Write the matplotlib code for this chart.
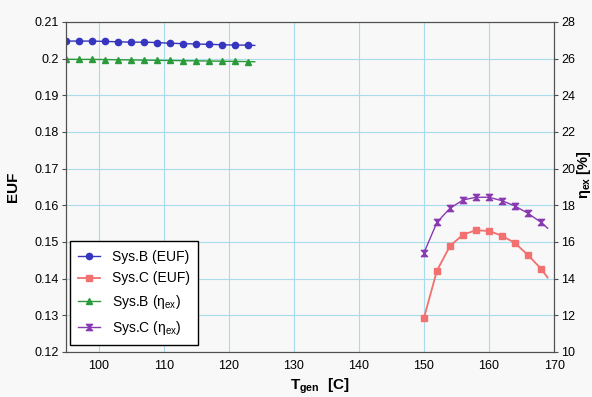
import matplotlib
matplotlib.use('Agg')
import matplotlib.pyplot as plt
from matplotlib.path import Path

plt.rcParams['font.family'] = ['Liberation Sans', 'DejaVu Sans']
plt.rcParams['mathtext.fontset'] = 'custom'
plt.rcParams['mathtext.rm'] = 'Liberation Sans'
plt.rcParams['mathtext.bf'] = 'Liberation Sans:bold'

# Sys.B, generator temperature (markers every 2 C, line end at 124)
t_b = [95, 97, 99, 101, 103, 105, 107, 109, 111, 113, 115, 117, 119, 121, 123, 124]
euf_b = [0.2048, 0.2048, 0.2048, 0.2047, 0.2046, 0.2045, 0.2045, 0.2044,
         0.2042, 0.2041, 0.2040, 0.2039, 0.2038, 0.2037, 0.2037, 0.2036]
eta_b = [25.97, 25.96, 25.96, 25.95, 25.94, 25.93, 25.92, 25.91,
         25.90, 25.89, 25.88, 25.87, 25.86, 25.85, 25.84, 25.83]

# Sys.C
t_c = [150, 152, 154, 156, 158, 160, 162, 164, 166, 168, 169]
euf_c = [0.1293, 0.1422, 0.1489, 0.1520, 0.1532, 0.1530, 0.1517, 0.1497,
         0.1464, 0.1427, 0.1403]
eta_c = [15.41, 17.07, 17.84, 18.29, 18.44, 18.44, 18.25, 17.96, 17.56,
         17.07, 16.75]

x_ticks = [100, 110, 120, 130, 140, 150, 160, 170]
euf_ticks = [0.12, 0.13, 0.14, 0.15, 0.16, 0.17, 0.18, 0.19, 0.2, 0.21]
euf_labels = ['0.12', '0.13', '0.14', '0.15', '0.16', '0.17', '0.18', '0.19', '0.2', '0.21']
eta_ticks = [10, 12, 14, 16, 18, 20, 22, 24, 26, 28]

# hourglass marker
hourglass = Path([(-1, 1), (1, 1), (0, 0), (-1, 1), (-1, -1), (1, -1), (0, 0), (-1, -1)],
                 [Path.MOVETO, Path.LINETO, Path.LINETO, Path.CLOSEPOLY,
                  Path.MOVETO, Path.LINETO, Path.LINETO, Path.CLOSEPOLY])

bg = '#f8f8f8'
fig = plt.figure(figsize=(5.92, 3.97), dpi=100, facecolor=bg)
ax = fig.add_axes([0.1115, 0.1134, 0.8245, 0.8312])
ax.set_facecolor(bg)
ax2 = ax.twinx()

mk_b = list(range(len(t_b) - 1))
mk_c = list(range(len(t_c) - 1))

l1, = ax.plot(t_b, euf_b, color='#3535c0', lw=1.0, marker='o', ms=4.5,
              markevery=mk_b, label='Sys.B (EUF)')
l2, = ax.plot(t_c, euf_c, color='#f27070', lw=1.3, marker='s', ms=5,
              markevery=mk_c, label='Sys.C (EUF)')
l3, = ax2.plot(t_b, eta_b, color='#2a9a3a', lw=1.0, marker='^', ms=4.5,
               markevery=mk_b, label=r'Sys.B ($\mathregular{\eta_{ex}}$)')
l4, = ax2.plot(t_c, eta_c, color='#8a3ab0', lw=1.0, marker=hourglass, ms=4.5,
               markevery=mk_c, label=r'Sys.C ($\mathregular{\eta_{ex}}$)')

ax.set_xlim(95, 170)
ax.set_ylim(0.12, 0.21)
ax2.set_ylim(10, 28)
ax.set_xticks(x_ticks)
ax.set_yticks(euf_ticks)
ax.set_yticklabels(euf_labels)
ax2.set_yticks(eta_ticks)

ax.grid(True, color='#a8dcea', lw=0.8)
ax.set_axisbelow(True)
for a in (ax, ax2):
    for s in a.spines.values():
        s.set_color('#505050')
ax.tick_params(axis='y', labelsize=9, length=3, color='#505050', pad=2)
ax.tick_params(axis='x', labelsize=9, length=0, pad=6)
ax2.tick_params(axis='y', labelsize=9, length=3, color='#505050', pad=2)

ax.set_ylabel('EUF', fontsize=11, fontweight='bold')
ax.yaxis.set_label_coords(-0.095, 0.5)
ax.set_xlabel(r'$\mathbf{T_{gen}}$  [C]', fontsize=11, fontweight='bold')
ax.xaxis.set_label_coords(0.52, -0.075)
fig.text(584 / 592, 0.56, r'$\mathbf{\eta_{ex}}$ [%]', rotation=90,
         ha='center', va='center', fontsize=10.5, fontweight='bold')

leg = ax.legend(handles=[l1, l2, l3, l4], loc='lower left',
                bbox_to_anchor=(0.008, 0.021), borderaxespad=0, fontsize=10,
                fancybox=False, framealpha=1, edgecolor='black',
                handlelength=1.6, labelspacing=0.55, borderpad=0.6)
leg.get_frame().set_linewidth(1.0)
leg.set_zorder(5)

fig.savefig('out.png', dpi=100, facecolor=bg)
